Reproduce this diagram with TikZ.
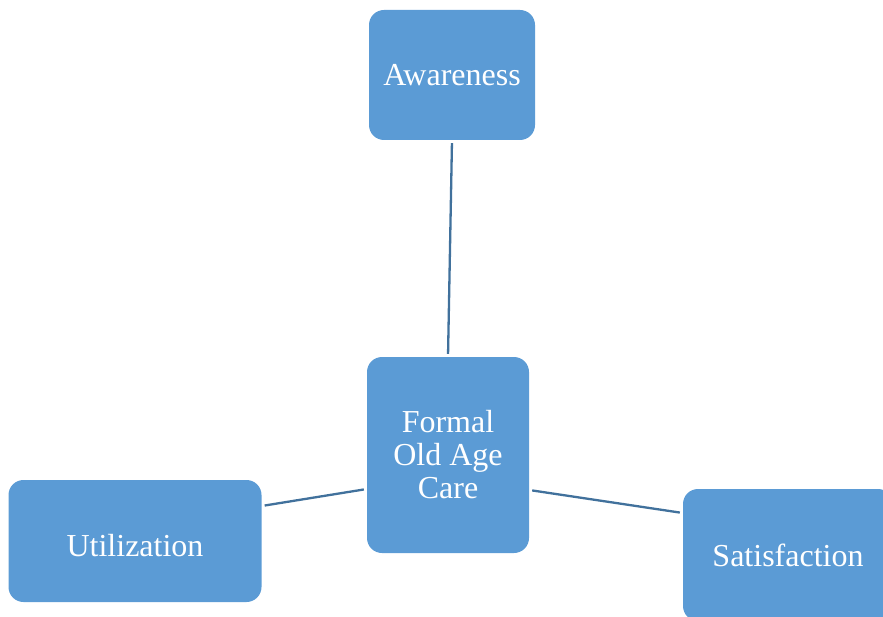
\documentclass[tikz,border=0pt]{standalone}
\usepackage{fontspec}
\setmainfont{Liberation Serif}
\definecolor{boxfill}{HTML}{5B9BD5}
\definecolor{linkcol}{HTML}{41719C}
\begin{document}
\begin{tikzpicture}[x=1pt,y=-1pt,
  blk/.style={fill=boxfill, draw=none, rounded corners=15pt, text=white,
    font=\fontsize{32}{33}\selectfont, align=center, inner sep=0pt},
  link/.style={draw=linkcol, line width=2.3pt, shorten <=3pt, shorten >=3pt}]
\useasboundingbox (0,0) rectangle (883,617);
\clip (0,0) rectangle (883,617);
\node[blk, minimum width=166pt, minimum height=130pt] (aw) at (452,75) {Awareness};
\node[blk, minimum width=162pt, minimum height=196pt] (fc) at (448,455) {Formal\\Old Age\\Care};
\node[blk, minimum width=253pt, minimum height=122pt] (ut) at (135,541) {};
\node[text=white, font=\fontsize{32}{33}\selectfont, inner sep=0pt] (utl) at (135,546) {Utilization};
\node[blk, minimum width=210pt, minimum height=132pt] (sa) at (788,555) {Satisfaction};
\draw[link] (aw.south) -- (fc.north);
\draw[link] ([yshift=-34pt]fc.west) -- ([yshift=35pt]ut.east);
\draw[link] ([yshift=-35pt]fc.east) -- ([yshift=42pt]sa.west);
\end{tikzpicture}
\end{document}
